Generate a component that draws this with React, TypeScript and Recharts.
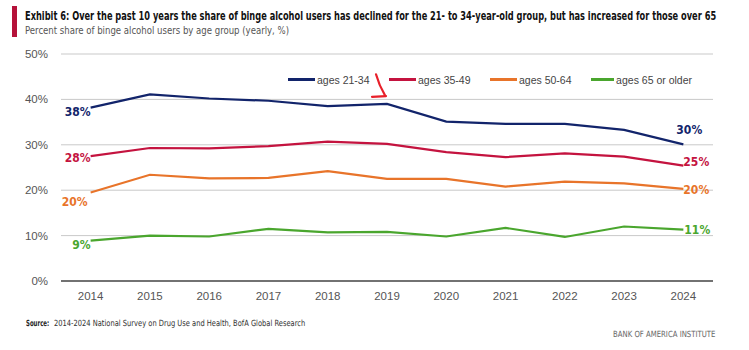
import React from 'react';
import { LineChart, Line, XAxis, YAxis, CartesianGrid, ReferenceDot } from 'recharts';

const years = ['2014', '2015', '2016', '2017', '2018', '2019', '2020', '2021', '2022', '2023', '2024'];
const ages21to34 = [38.2, 41.1, 40.2, 39.7, 38.5, 39.0, 35.1, 34.6, 34.6, 33.3, 30.1];
const ages35to49 = [27.5, 29.3, 29.2, 29.7, 30.7, 30.2, 28.4, 27.3, 28.1, 27.4, 25.4];
const ages50to64 = [19.5, 23.4, 22.6, 22.7, 24.2, 22.5, 22.5, 20.8, 21.9, 21.5, 20.3];
const ages65plus = [8.9, 10.0, 9.8, 11.5, 10.7, 10.8, 9.8, 11.7, 9.7, 12.0, 11.3];
const yTicks = [0, 10, 20, 30, 40, 50];

const chartData = years.map((year, i) => ({
  year,
  a21: ages21to34[i],
  a35: ages35to49[i],
  a50: ages50to64[i],
  a65: ages65plus[i],
}));

const series = [
  { key: 'a21', name: 'ages 21-34', color: '#12246b' },
  { key: 'a35', name: 'ages 35-49', color: '#c4133f' },
  { key: 'a50', name: 'ages 50-64', color: '#e8742a' },
  { key: 'a65', name: 'ages 65 or older', color: '#4aa62e' },
];

// end label offsets (dx, dy from the point) for first and last year
const endLabelOffsets: Record<string, { first: [number, number]; last: [number, number] }> = {
  a21: { first: [0, 0], last: [-7, -19] },
  a35: { first: [0, -3], last: [0, -8] },
  a50: { first: [-3, 5], last: [0, -4] },
  a65: { first: [0, 0], last: [1, -4] },
};

const font = '"Liberation Sans", Arial, sans-serif';
const narrow = '"DejaVu Sans Condensed", "Liberation Sans", sans-serif';

function makeLabel(key: string, color: string) {
  return (props: any) => {
    const { x, y, index, value } = props;
    const last = years.length - 1;
    if (index !== 0 && index !== last) return null;
    const off = index === 0 ? endLabelOffsets[key].first : endLabelOffsets[key].last;
    return (
      <text
        key={`${key}-${index}`}
        x={x + off[0]}
        y={y + off[1]}
        textAnchor={index === 0 ? 'end' : 'start'}
        fill={color}
        fontSize={12}
        fontWeight="bold"
        fontFamily={narrow}
        dominantBaseline="hanging"
      >
        {Math.round(value)}%
      </text>
    );
  };
}

function Arrow(props: any) {
  const { cx, cy } = props;
  return (
    <g stroke="#e8202a" strokeWidth={2.2} fill="none" strokeLinecap="round">
      <path d={`M${cx - 11},${cy - 16} Q${cx - 8},${cy - 5} ${cx - 2},${cy + 5}`} />
      <path d={`M${cx - 15},${cy + 6.5} L${cx - 1},${cy + 5.8}`} />
    </g>
  );
}

export default function App() {
  return (
    <div style={{ position: 'absolute', top: 0, left: 0, width: 749, height: 350, background: '#fff' }}>
      <svg width={749} height={350} style={{ position: 'absolute', left: 0, top: 0 }}>
        <rect x={12} y={6} width={5} height={31} fill="#b5123a" />
        <text transform="translate(25,19.5) scale(0.74,1)" fontFamily={narrow} fontWeight="bold" fontSize={11.5} fill="#111" textLength={934} lengthAdjust="spacingAndGlyphs">
          Exhibit 6: Over the past 10 years the share of binge alcohol users has declined for the 21- to 34-year-old group, but has increased for those over 65
        </text>
        <text transform="translate(25,33.5) scale(0.8,1)" fontFamily={narrow} fontSize={11} fill="#555" textLength={330} lengthAdjust="spacingAndGlyphs">
          Percent share of binge alcohol users by age group (yearly, %)
        </text>
        <text transform="translate(26,325.5) scale(0.8,1)" fontFamily={narrow} fontWeight="bold" fontSize={8.5} fill="#222" textLength={29} lengthAdjust="spacingAndGlyphs">
          Source:
        </text>
        <text transform="translate(54,325.5) scale(0.8,1)" fontFamily={narrow} fontSize={8.5} fill="#333" textLength={314} lengthAdjust="spacingAndGlyphs">
          2014-2024 National Survey on Drug Use and Health, BofA Global Research
        </text>
        <text transform="translate(613,337) scale(0.8,1)" fontFamily={narrow} fontSize={8.5} fill="#666" textLength={128} lengthAdjust="spacingAndGlyphs">
          BANK OF AMERICA INSTITUTE
        </text>
      </svg>

      <div style={{ position: 'absolute', left: 0, top: 0 }}>
        <LineChart width={749} height={350} data={chartData} margin={{ top: 54, right: 36, bottom: 39, left: 1 }}>
          <CartesianGrid vertical={false} stroke="#c9c9c9" strokeWidth={1} />
          <XAxis
            dataKey="year"
            type="category"
            scale="band"
            height={30}
            axisLine={{ stroke: '#4d4d4d', strokeWidth: 1.5 }}
            tickLine={false}
            tickMargin={5}
            tick={{ fill: '#555', fontSize: 11.5, fontFamily: font }}
            interval={0}
          />
          <YAxis
            width={60}
            domain={[0, 50]}
            ticks={yTicks}
            axisLine={false}
            tickLine={false}
            tickMargin={7}
            tickFormatter={(v: number) => `${v}%`}
            tick={{ fill: '#555', fontSize: 11.5, fontFamily: font }}
          />
          {series.map((s) => (
            <Line
              key={s.key}
              type="linear"
              dataKey={s.key}
              name={s.name}
              stroke={s.color}
              strokeWidth={2.2}
              dot={false}
              activeDot={false}
              isAnimationActive={false}
              label={makeLabel(s.key, s.color)}
            />
          ))}
          <ReferenceDot x="2019" y={42} r={0} shape={Arrow} ifOverflow="visible" />
        </LineChart>
      </div>

      <div
        style={{
          position: 'absolute',
          left: 288,
          top: 72,
          height: 15,
          display: 'flex',
          alignItems: 'center',
          fontFamily: font,
          fontSize: 10.5,
          color: '#444',
          whiteSpace: 'nowrap',
        }}
      >
        {series.map((s) => (
          <div key={s.key} style={{ display: 'flex', alignItems: 'center', width: 101 }}>
            <span style={{ display: 'inline-block', width: 27, height: 2.5, background: s.color, marginRight: 2 }} />
            <span>{s.name}</span>
          </div>
        ))}
      </div>
    </div>
  );
}
